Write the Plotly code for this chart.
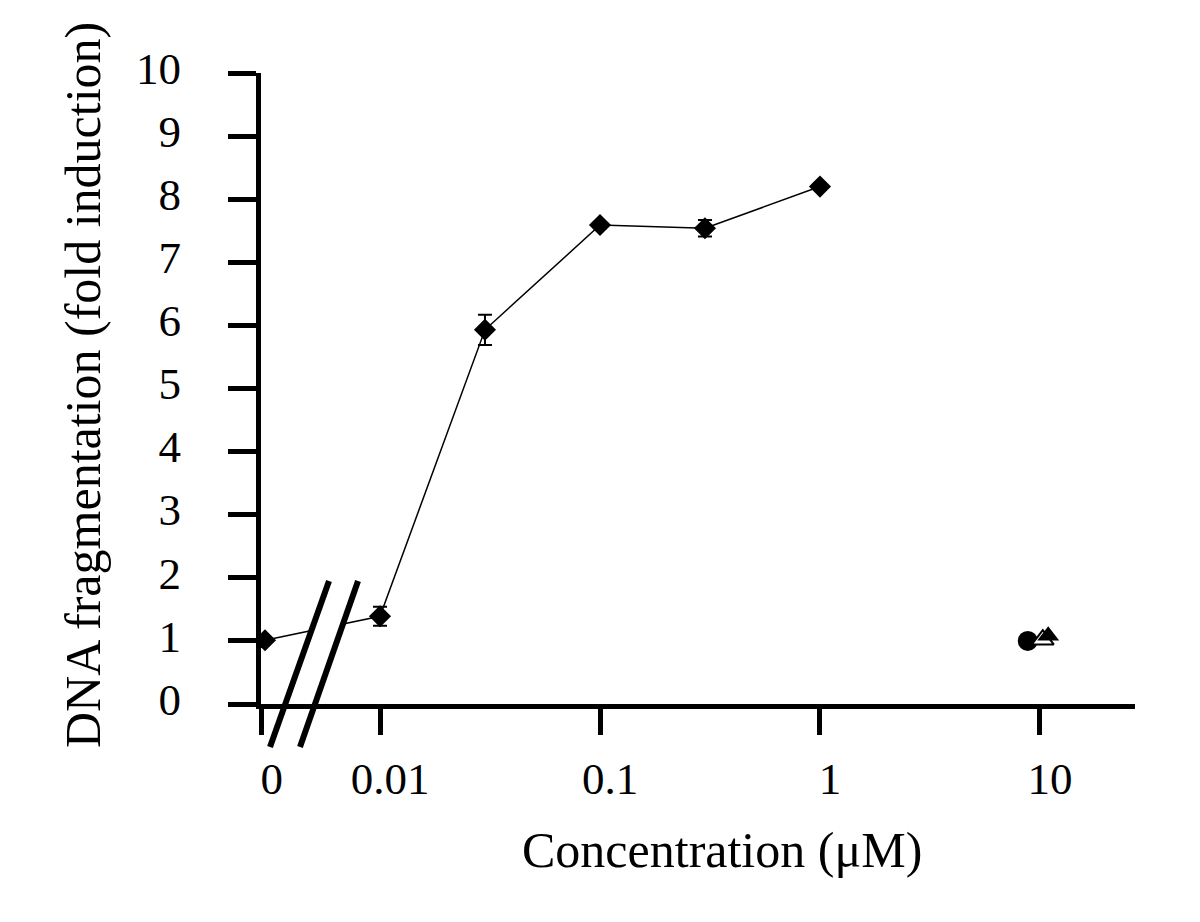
import plotly.graph_objects as go

# ---- data ----
conc_labels = ["0", "0.01", "0.03", "0.1", "0.3", "1"]
conc_pos = [0.003, 0.01, 0.03, 0.1, 0.3, 1.0]       # "0" drawn at a surrogate position left of the break
fold = [1.01, 1.39, 5.93, 7.59, 7.54, 8.20]
fold_err = [0.0, 0.15, 0.24, 0.05, 0.13, 0.05]

ctrl_circle_x = [8.8]
ctrl_circle_y = [1.0]
ctrl_open_tri_x = [10.3]
ctrl_open_tri_y = [1.02]
ctrl_fill_tri_x = [10.9]
ctrl_fill_tri_y = [1.08]

tick_vals = [0.0029, 0.01, 0.1, 1, 10]
tick_text = ["0", "0.01", "0.1", "1", "10"]
y_ticks = list(range(0, 11))

FONT = "Liberation Serif"

fig = go.Figure()

fig.add_trace(go.Scatter(
    x=conc_pos, y=fold, mode="lines+markers",
    line=dict(color="black", width=1.5),
    marker=dict(symbol="diamond", size=17, color="black"),
    error_y=dict(type="data", array=fold_err, visible=True, color="black", thickness=2, width=7),
    showlegend=False,
))
fig.add_trace(go.Scatter(
    x=ctrl_circle_x, y=ctrl_circle_y, mode="markers",
    marker=dict(symbol="circle", size=20, color="black"), showlegend=False))
fig.add_trace(go.Scatter(
    x=ctrl_open_tri_x, y=ctrl_open_tri_y, mode="markers",
    marker=dict(symbol="triangle-up", size=19, color="white", line=dict(color="black", width=2)),
    showlegend=False))
fig.add_trace(go.Scatter(
    x=ctrl_fill_tri_x, y=ctrl_fill_tri_y, mode="markers",
    marker=dict(symbol="triangle-up", size=19, color="black"), showlegend=False))

# axis-break decoration
fig.add_shape(type="path", xref="paper", yref="paper", layer="above",
              path="M 0.0481 0.0792 L 0.0824 0.0792 L 0.1027 0.1585 L 0.0684 0.1585 Z",
              fillcolor="white", line=dict(width=0))
fig.add_shape(type="line", xref="paper", yref="paper", layer="above",
              x0=0.0103, y0=-0.0681, x1=0.0778, y1=0.1949, line=dict(color="black", width=6))
fig.add_shape(type="line", xref="paper", yref="paper", layer="above",
              x0=0.0446, y0=-0.0681, x1=0.111, y1=0.1949, line=dict(color="black", width=6))

fig.update_xaxes(
    type="log", range=[-2.541, 1.432],
    tickvals=tick_vals, ticktext=tick_text,
    ticks="outside", ticklen=26, tickwidth=5, tickcolor="black",
    ticklabelstandoff=5, ticklabelshift=10,
    showline=True, linewidth=5, linecolor="black",
    showgrid=False, zeroline=False,
    tickfont=dict(family=FONT, size=45, color="black"),
)
fig.update_yaxes(
    range=[0, 10], tickvals=y_ticks,
    ticks="outside", ticklen=28, tickwidth=5, tickcolor="black",
    ticklabelstandoff=38, ticklabelshift=-5,
    showline=True, linewidth=5, linecolor="black",
    showgrid=False, zeroline=False,
    tickfont=dict(family=FONT, size=45, color="black"),
)

fig.add_annotation(text="Concentration (μM)", xref="paper", yref="paper",
                   x=0.5275, y=-0.2314, xanchor="center", yanchor="middle", showarrow=False,
                   font=dict(family=FONT, size=50, color="black"))
fig.add_annotation(text="DNA fragmentation (fold induction)", xref="paper", yref="paper",
                   x=-0.2037, y=0.5055, xanchor="center", yanchor="middle", textangle=-90,
                   showarrow=False, font=dict(family=FONT, size=50, color="black"))

fig.update_layout(
    width=1200, height=922,
    margin=dict(l=253, r=73, t=65, b=226),
    paper_bgcolor="white", plot_bgcolor="white",
)

fig.write_html("out.html")
